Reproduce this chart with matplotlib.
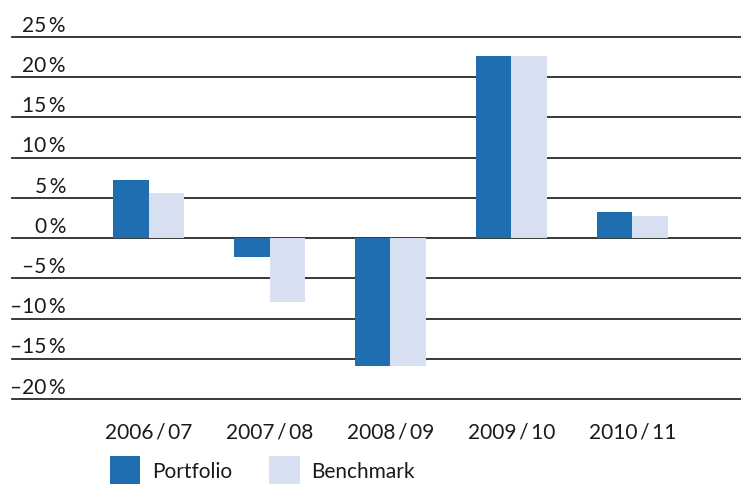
import matplotlib
matplotlib.use('Agg')
import matplotlib.pyplot as plt
import numpy as np

years = ['2006\u2009/\u200907', '2007\u2009/\u200908', '2008\u2009/\u200909',
         '2009\u2009/\u200910', '2010\u2009/\u200911']
portfolio = [7.2, -2.4, -15.9, 22.6, 3.2]
benchmark = [5.6, -8.0, -15.9, 22.6, 2.7]
ticks = [25, 20, 15, 10, 5, 0, -5, -10, -15, -20]

blue = '#1f6eb0'
light = '#d7e0f1'
txt = '#1a1a1a'

plt.rcParams['font.family'] = ['Lato', 'DejaVu Sans']

fig = plt.figure(figsize=(7.41, 4.85), dpi=100)
# axes spans x 12..741 px, y 30..400.4 px
ax = fig.add_axes([12 / 741, (485 - 400.4) / 485, (741 - 12) / 741, (400.4 - 30) / 485])

x = np.arange(len(years))
w = 0.295
b1 = ax.bar(x - w / 2, portfolio, width=w, color=blue, zorder=3, label='Portfolio')
b2 = ax.bar(x + w / 2, benchmark, width=w, color=light, zorder=3, label='Benchmark')

for t in ticks:
    ax.axhline(t, color='#2a2a2a', lw=1.3, zorder=1, clip_on=False)
    lab = ('\u2013' if t < 0 else '') + f'{abs(t)}\u2009%'
    ax.annotate(lab, xy=(0.074, t), xycoords=('axes fraction', 'data'),
                xytext=(0, 4.6), textcoords='offset points',
                ha='right', va='baseline', fontsize=15, color=txt)

ax.set_xlim(-1.13, 4.9)
ax.set_ylim(-20.05, 26)
ax.set_yticks([])
ax.set_xticks(x)
ax.set_xticklabels(years, fontsize=15, color=txt)
ax.tick_params(axis='x', length=0, pad=16)
for s in ax.spines.values():
    s.set_visible(False)

leg = fig.legend(handles=[b1, b2], loc='center left', bbox_to_anchor=(110 / 741, 1 - 471 / 485),
                 ncol=2, frameon=False, fontsize=15, handlelength=1.45, handleheight=1.65,
                 handletextpad=0.55, columnspacing=1.8, borderpad=0, borderaxespad=0)
for t in leg.get_texts():
    t.set_color(txt)

fig.savefig('out.png', dpi=100)
